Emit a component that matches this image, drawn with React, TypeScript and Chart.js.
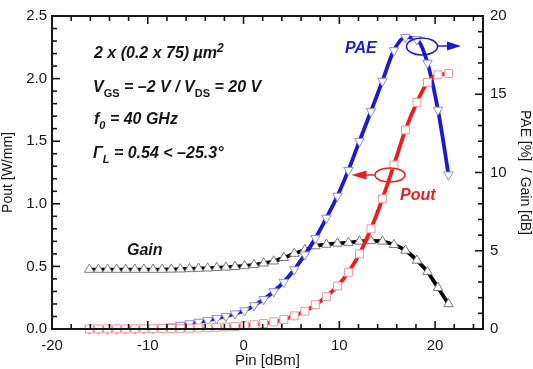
import { useEffect, useRef } from 'react';
import { Chart, registerables } from 'chart.js';

Chart.register(...registerables);

// ---- data ----
const pinDbm = [
  -16.1, -15.15, -14.2, -13.25, -12.3, -11.35, -10.4, -9.45, -8.5, -7.55,
  -6.6, -5.65, -4.7, -3.75, -2.8, -1.85, -0.9, 0.1, 1.1, 2.1,
  3.15, 4.2, 5.3, 6.4, 7.5, 8.65, 9.8, 10.95, 12.1, 13.3,
  14.5, 15.7, 16.9, 18.1, 19.2, 20.3, 21.4,
];
const gainDb = [
  3.8, 3.8, 3.8, 3.8, 3.8, 3.8, 3.8, 3.8, 3.8, 3.81,
  3.82, 3.84, 3.86, 3.88, 3.91, 3.94, 3.98, 4.03, 4.1, 4.2,
  4.33, 4.55, 4.82, 5.05, 5.3, 5.4, 5.47, 5.52, 5.6, 5.63,
  5.6, 5.38, 5.02, 4.38, 3.65, 2.64, 1.6,
];
const paePct = [
  0, 0, 0, 0, 0.01, 0.02, 0.03, 0.05, 0.08, 0.15,
  0.25, 0.35, 0.45, 0.55, 0.68, 0.82, 0.98, 1.18, 1.5, 1.9,
  2.4, 3.0, 3.8, 4.75, 5.8, 7.1, 8.5, 10.15, 12.0, 13.9,
  15.85, 17.8, 18.65, 18.5, 17.0, 14.0, 9.86,
];
const poutWmm = [
  0.0006, 0.0007, 0.0009, 0.0012, 0.0014, 0.0018, 0.0022, 0.0028, 0.0035, 0.0043,
  0.0054, 0.0067, 0.0084, 0.0105, 0.0132, 0.0165, 0.0207, 0.026, 0.034, 0.044,
  0.057, 0.076, 0.105, 0.142, 0.194, 0.259, 0.343, 0.453, 0.6, 0.8,
  1.04, 1.31, 1.59, 1.81, 1.97, 2.03, 2.04,
];
const xTickLabels = [-20, -10, 0, 10, 20];
const leftTickLabels = [0, 0.5, 1.0, 1.5, 2.0, 2.5];
const rightTickLabels = [0, 5, 10, 15, 20];

const FONT = '"Liberation Sans", Arial, Helvetica, sans-serif';
const BLUE = '#1a1ad2';
const RED = '#ee1c1c';
const INK = '#161616';

const toXY = (ys: number[]) => pinDbm.map((x, i) => ({ x, y: ys[i] }));

type Part = { t: string; size: number; dy: number; upright?: boolean };

function drawRich(ctx: CanvasRenderingContext2D, x: number, y: number, parts: Part[], color: string) {
  ctx.fillStyle = color;
  ctx.textBaseline = 'alphabetic';
  ctx.textAlign = 'left';
  let cx = x;
  for (const p of parts) {
    ctx.font = `${p.upright ? '' : 'italic '}bold ${p.size}px ${FONT}`;
    ctx.fillText(p.t, cx, y + p.dy);
    cx += ctx.measureText(p.t).width;
  }
}

const framePlugin = {
  id: 'frame',
  afterDraw(chart: any) {
    const { ctx, chartArea: a, scales } = chart;
    const sx = scales.x;
    const yl = scales.y;
    const yr = scales.y1;
    ctx.save();
    ctx.strokeStyle = INK;
    ctx.lineWidth = 2;
    ctx.strokeRect(a.left, a.top, a.right - a.left, a.bottom - a.top);
    ctx.lineWidth = 1.6;
    const tick = (x1: number, y1: number, x2: number, y2: number) => {
      ctx.beginPath();
      ctx.moveTo(x1, y1);
      ctx.lineTo(x2, y2);
      ctx.stroke();
    };
    for (let v = -20; v <= 24; v += 2) {
      const px = sx.getPixelForValue(v);
      const L = v % 10 === 0 ? 8 : 5;
      tick(px, a.bottom, px, a.bottom - L);
      tick(px, a.top, px, a.top + L);
    }
    for (let i = 0; i <= 25; i++) {
      const py = yl.getPixelForValue(i / 10);
      const L = i % 5 === 0 ? 8 : 5;
      tick(a.left, py, a.left + L, py);
    }
    for (let v = 0; v <= 20; v++) {
      const py = yr.getPixelForValue(v);
      const L = v % 5 === 0 ? 8 : 5;
      tick(a.right, py, a.right - L, py);
    }

    // annotation block
    const B = 16;
    const S = 11;
    drawRich(ctx, 94, 58, [
      { t: '2 x (0.2 x 75) µm', size: B, dy: 0 },
      { t: '2', size: 12, dy: -6 },
    ], INK);
    drawRich(ctx, 93, 92, [
      { t: 'V', size: B, dy: 0 },
      { t: 'GS', size: S, dy: 5, upright: true },
      { t: ' = –2 V / V', size: B, dy: 0 },
      { t: 'DS', size: S, dy: 5, upright: true },
      { t: ' = 20 V', size: B, dy: 0 },
    ], INK);
    drawRich(ctx, 94, 124, [
      { t: 'f', size: B, dy: 0 },
      { t: '0', size: S, dy: 5 },
      { t: ' = 40 GHz', size: B, dy: 0 },
    ], INK);
    drawRich(ctx, 93, 158, [
      { t: 'Γ', size: B, dy: 0 },
      { t: 'L', size: S, dy: 5 },
      { t: ' = 0.54 < –25.3°', size: B, dy: 0 },
    ], INK);

    // series labels
    drawRich(ctx, 345, 53, [{ t: 'PAE', size: B, dy: 0 }], BLUE);
    drawRich(ctx, 400, 200, [{ t: 'Pout', size: B, dy: 0 }], RED);
    drawRich(ctx, 127, 255, [{ t: 'Gain', size: B, dy: 0 }], INK);

    // PAE ellipse + arrow to the right
    ctx.lineWidth = 1.5;
    ctx.strokeStyle = BLUE;
    ctx.fillStyle = BLUE;
    ctx.beginPath();
    ctx.ellipse(422, 46.5, 15.5, 8.5, 0, 0, Math.PI * 2);
    ctx.stroke();
    tick(437.5, 46, 448, 46);
    ctx.beginPath();
    ctx.moveTo(461, 46);
    ctx.lineTo(447, 41.5);
    ctx.lineTo(447, 50.5);
    ctx.closePath();
    ctx.fill();

    // Pout ellipse + arrow to the left
    ctx.strokeStyle = RED;
    ctx.fillStyle = RED;
    ctx.beginPath();
    ctx.ellipse(390, 175, 15, 7, 0, 0, Math.PI * 2);
    ctx.stroke();
    tick(375, 175, 366, 175);
    ctx.beginPath();
    ctx.moveTo(351.5, 175);
    ctx.lineTo(366.5, 170.5);
    ctx.lineTo(366.5, 179.5);
    ctx.closePath();
    ctx.fill();

    ctx.restore();
  },
};

export default function App() {
  const ref = useRef<HTMLCanvasElement | null>(null);

  useEffect(() => {
    if (!ref.current) return;
    const tickFont = { size: 15, family: FONT };
    const chart = new Chart(ref.current, {
      type: 'line',
      data: {
        datasets: [
          {
            label: 'Gain',
            data: toXY(gainDb),
            yAxisID: 'y1',
            borderColor: '#000000',
            borderWidth: 3.8,
            pointStyle: 'triangle',
            pointRadius: 5.5,
            pointBackgroundColor: '#ffffff',
            pointBorderColor: '#7a7a7a',
            pointBorderWidth: 1,
            cubicInterpolationMode: 'monotone',
            clip: false,
            order: 3,
          } as any,
          {
            label: 'PAE',
            data: toXY(paePct),
            yAxisID: 'y1',
            borderColor: BLUE,
            borderWidth: 3.8,
            pointStyle: 'triangle',
            pointRotation: 180,
            pointRadius: 5.5,
            pointBackgroundColor: '#ffffff',
            pointBorderColor: '#8c8ce8',
            pointBorderWidth: 1,
            cubicInterpolationMode: 'monotone',
            clip: false,
            order: 2,
          } as any,
          {
            label: 'Pout',
            data: toXY(poutWmm),
            yAxisID: 'y',
            borderColor: RED,
            borderWidth: 3.8,
            pointStyle: 'rect',
            pointRadius: 5.6,
            pointBackgroundColor: '#ffffff',
            pointBorderColor: '#f09a9a',
            pointBorderWidth: 1,
            cubicInterpolationMode: 'monotone',
            clip: false,
            order: 1,
          } as any,
        ],
      },
      options: {
        animation: false,
        responsive: false,
        maintainAspectRatio: false,
        layout: { padding: { top: 8, left: 0, right: 0, bottom: 0 } },
        plugins: { legend: { display: false }, tooltip: { enabled: false } },
        scales: {
          x: {
            type: 'linear',
            position: 'bottom',
            min: -20,
            max: 25,
            afterBuildTicks: (s: any) => {
              s.ticks = xTickLabels.map((v) => ({ value: v }));
            },
            afterFit: (s: any) => {
              s.height = 40;
            },
            grid: { display: false, drawTicks: false },
            border: { display: false },
            ticks: {
              padding: 8,
              font: tickFont,
              color: INK,
              maxRotation: 0,
              autoSkip: false,
              callback: (v: any) => String(v),
            },
            title: {
              display: true,
              text: 'Pin [dBm]',
              font: { size: 15, family: FONT },
              color: INK,
              padding: { top: 0, bottom: -1 },
            },
          },
          y: {
            type: 'linear',
            position: 'left',
            min: 0,
            max: 2.5,
            afterBuildTicks: (s: any) => {
              s.ticks = leftTickLabels.map((v) => ({ value: v }));
            },
            afterFit: (s: any) => {
              s.width = 52;
            },
            grid: { display: false, drawTicks: false },
            border: { display: false },
            ticks: {
              padding: 5,
              font: tickFont,
              color: INK,
              autoSkip: false,
              callback: (v: any) => Number(v).toFixed(1),
            },
            title: {
              display: true,
              text: 'Pout [W/mm]',
              font: { size: 14, family: FONT },
              color: INK,
              padding: { top: 0, bottom: 0 },
            },
          },
          y1: {
            type: 'linear',
            position: 'right',
            min: 0,
            max: 20,
            afterBuildTicks: (s: any) => {
              s.ticks = rightTickLabels.map((v) => ({ value: v }));
            },
            afterFit: (s: any) => {
              s.width = 50;
            },
            grid: { display: false, drawTicks: false },
            border: { display: false },
            ticks: {
              padding: 7,
              font: tickFont,
              color: INK,
              autoSkip: false,
              callback: (v: any) => String(v),
            },
            title: {
              display: true,
              text: 'PAE [%]  / Gain [dB]',
              font: { size: 14, family: FONT },
              color: INK,
              padding: { top: 0, bottom: 0 },
            },
          },
        },
      } as any,
      plugins: [framePlugin as any],
    });
    return () => chart.destroy();
  }, []);

  return (
    <div style={{ position: 'fixed', left: 0, top: 0, width: 533, height: 369, background: '#fff' }}>
      <canvas ref={ref} width={533} height={369} style={{ display: 'block', width: 533, height: 369 }} />
    </div>
  );
}
